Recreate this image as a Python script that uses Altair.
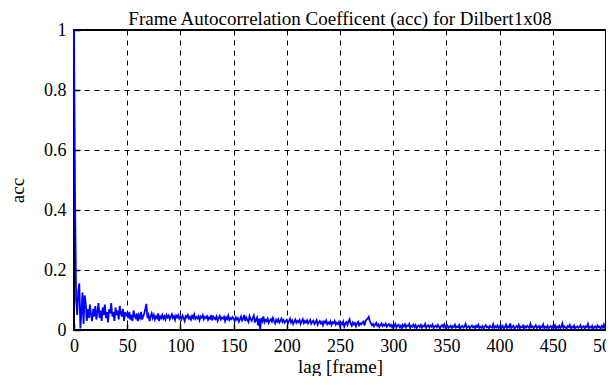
import altair as alt
import pandas as pd

# Autocorrelation values, lag 0..500
acc = [
    1.0, 0.43, 0.10, 0.05, 0.13, 0.155, 0.005, 0.06, 0.125, 0.02, 0.115, 0.09, 0.03, 0.07, 0.04, 0.085, 0.05, 0.03, 0.07, 0.045, 0.08, 0.035, 0.06, 0.09, 0.04,
    0.065, 0.03, 0.075, 0.05, 0.085, 0.04, 0.06, 0.025, 0.07, 0.055, 0.09, 0.045, 0.06, 0.03, 0.075, 0.05, 0.065, 0.035, 0.08, 0.055, 0.045, 0.07, 0.03, 0.06, 0.05,
    0.055, 0.04, 0.06, 0.035, 0.05, 0.03, 0.065, 0.045, 0.04, 0.055, 0.03, 0.05, 0.04, 0.06, 0.035, 0.045, 0.055, 0.07, 0.087, 0.04, 0.05, 0.03, 0.045, 0.055, 0.04,
    0.05, 0.035, 0.045, 0.04, 0.055, 0.03, 0.045, 0.04, 0.05, 0.038, 0.046, 0.035, 0.05, 0.042, 0.048, 0.036, 0.044, 0.052, 0.04, 0.046, 0.034, 0.048, 0.042, 0.05, 0.038,
    0.044, 0.036, 0.048, 0.04, 0.03, 0.046, 0.042, 0.05, 0.038, 0.044, 0.035, 0.047, 0.04, 0.052, 0.037, 0.043, 0.039, 0.046, 0.033, 0.045, 0.041, 0.049, 0.036, 0.044, 0.04,
    0.046, 0.034, 0.042, 0.038, 0.05, 0.032, 0.044, 0.039, 0.036, 0.045, 0.031, 0.04, 0.047, 0.035, 0.041, 0.038, 0.044, 0.03, 0.042, 0.037, 0.048, 0.034, 0.04, 0.036, 0.043,
    0.038, 0.03, 0.042, 0.035, 0.04, 0.028, 0.036, 0.045, 0.032, 0.038, 0.05, 0.03, 0.041, 0.034, 0.027, 0.046, 0.036, 0.03, 0.04, 0.048, 0.025, 0.035, 0.042, 0.015, 0.038,
    0.002, 0.04, 0.03, 0.045, 0.026, 0.034, 0.03, 0.038, 0.024, 0.032, 0.036, 0.028, 0.04, 0.03, 0.022, 0.034, 0.028, 0.036, 0.025, 0.031, 0.038, 0.027, 0.033, 0.024, 0.03,
    0.034, 0.022, 0.03, 0.038, 0.025, 0.032, 0.02, 0.028, 0.035, 0.024, 0.03, 0.026, 0.033, 0.02, 0.029, 0.036, 0.023, 0.03, 0.025, 0.032, 0.022, 0.028, 0.034, 0.021, 0.027,
    0.031, 0.02, 0.026, 0.033, 0.018, 0.025, 0.03, 0.022, 0.027, 0.016, 0.028, 0.024, 0.032, 0.019, 0.025, 0.021, 0.029, 0.017, 0.026, 0.023, 0.03, 0.018, 0.024, 0.02, 0.027,
    0.015, 0.024, 0.019, 0.028, 0.012, 0.022, 0.026, 0.017, 0.03, 0.036, 0.02, 0.014, 0.025, 0.018, 0.023, 0.012, 0.021, 0.027, 0.016, 0.022, 0.019, 0.025, 0.028, 0.015, 0.03,
    0.035, 0.038, 0.044, 0.03, 0.022, 0.016, 0.02, 0.012, 0.018, 0.024, 0.014, 0.019, 0.01, 0.017, 0.022, 0.013, 0.018, 0.015, 0.021, 0.011, 0.016, 0.02, 0.013, 0.017, 0.009,
    0.016, 0.012, 0.02, 0.008, 0.015, 0.018, 0.01, 0.014, 0.004, 0.017, 0.012, 0.019, 0.009, 0.015, 0.013, 0.02, 0.007, 0.014, 0.011, 0.018, 0.01, 0.016, 0.006, 0.013, 0.015,
    0.01, 0.017, 0.008, 0.014, 0.012, 0.02, 0.007, 0.013, 0.016, 0.009, 0.015, 0.011, 0.018, 0.006, 0.012, 0.014, 0.009, 0.017, 0.011, 0.005, 0.013, 0.016, 0.01, 0.019, 0.008,
    0.012, 0.015, 0.007, 0.011, 0.014, 0.006, 0.013, 0.01, 0.018, 0.008, 0.012, 0.009, 0.016, 0.005, 0.011, 0.014, 0.008, 0.012, 0.02, 0.007, 0.01, 0.013, 0.006, 0.011, 0.015,
    0.009, 0.012, 0.005, 0.014, 0.01, 0.017, 0.007, 0.011, 0.008, 0.013, 0.004, 0.012, 0.016, 0.009, 0.011, 0.006, 0.014, 0.01, 0.008, 0.019, 0.007, 0.012, 0.009, 0.015, 0.006,
    0.011, 0.016, 0.008, 0.013, 0.005, 0.01, 0.018, 0.007, 0.012, 0.009, 0.022, 0.006, 0.011, 0.014, 0.004, 0.01, 0.013, 0.008, 0.017, 0.006, 0.011, 0.009, 0.015, 0.005, 0.012,
    0.008, 0.014, 0.01, 0.006, 0.02, 0.009, 0.012, 0.005, 0.011, 0.016, 0.007, 0.01, 0.013, 0.004, 0.012, 0.009, 0.018, 0.006, 0.011, 0.008, 0.014, 0.005, 0.01, 0.013, 0.007,
    0.012, 0.009, 0.016, 0.005, 0.011, 0.008, 0.014, 0.006, 0.01, 0.022, 0.007, 0.012, 0.009, 0.004, 0.013, 0.01, 0.017, 0.006, 0.011, 0.008, 0.015, 0.005, 0.01, 0.012, 0.007,
    0.011, 0.016, 0.006, 0.01, 0.013, 0.005, 0.012, 0.009, 0.02, 0.007, 0.011, 0.008, 0.014, 0.004, 0.01, 0.012, 0.006, 0.015, 0.009, 0.011, 0.005, 0.013, 0.008, 0.018, 0.007, 0.01,
]
lags = list(range(len(acc)))

x_ticks = [0, 50, 100, 150, 200, 250, 300, 350, 400, 450, 500]
y_ticks = [0, 0.2, 0.4, 0.6, 0.8, 1]

df = pd.DataFrame({"lag": lags, "acc": acc})

FONT = "Liberation Serif"
xscale = alt.Scale(domain=[0, 500], nice=False, zero=False)
yscale = alt.Scale(domain=[0, 1], nice=False)

grid_style = dict(grid=True, gridDash=[5, 5], gridColor="black", gridOpacity=1, gridWidth=1)
tick_style = dict(domain=False, ticks=True, tickSize=6, offset=-6, tickColor="black", tickWidth=1.5)
text_style = dict(
    labelFont=FONT, labelFontSize=18, labelColor="black",
    titleFont=FONT, titleFontSize=19, titleFontWeight="normal", titleColor="black",
)

line = alt.Chart(df).mark_line(color="#0000ff", strokeWidth=1.8).encode(
    x=alt.X("lag:Q", scale=xscale,
            axis=alt.Axis(title="lag [frame]", values=x_ticks, format="d",
                          labelPadding=7, titlePadding=2,
                          labelFlush=False, labelOverlap=False,
                          **tick_style, **grid_style, **text_style)),
    y=alt.Y("acc:Q", scale=yscale,
            axis=alt.Axis(title="acc", values=y_ticks, format="~g",
                          labelPadding=8, titlePadding=16, titleY=160,
                          labelFlush=False,
                          **tick_style, **grid_style, **text_style)),
)

chart = line.properties(
    width=532,
    height=300,
    autosize=alt.AutoSizeParams(type="none"),
    padding={"left": 66, "top": 22, "right": 0, "bottom": 46},
    title=alt.TitleParams(
        "Frame Autocorrelation Coefficent (acc) for Dilbert1x08",
        font=FONT, fontSize=19, fontWeight="normal", color="black",
        anchor="middle", offset=3, dy=11,
    ),
    background="white",
).configure_view(stroke="black", strokeWidth=2)

chart.save("out.html", embed_options={"renderer": "svg", "actions": False})
